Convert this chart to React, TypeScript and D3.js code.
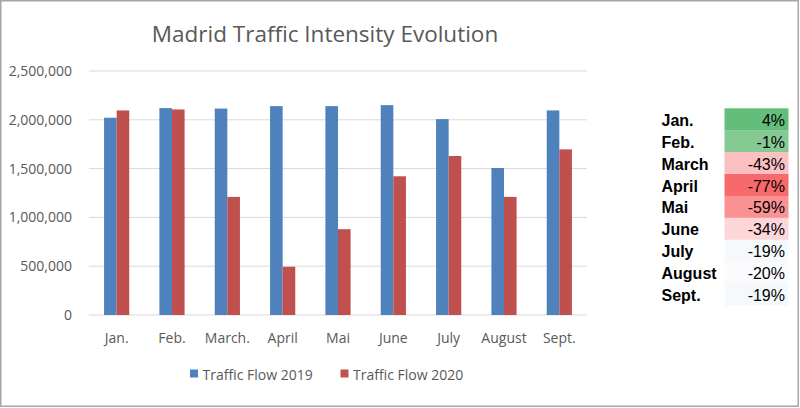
import React, { useEffect, useRef } from "react";
import * as d3 from "d3";

const months = ["Jan.", "Feb.", "March.", "April", "Mai", "June", "July", "August", "Sept."];
const flow2019 = [2021000, 2120000, 2115000, 2140000, 2140000, 2150000, 2007000, 1506000, 2096000];
const flow2020 = [2096000, 2106000, 1210000, 494000, 879000, 1421000, 1629000, 1210000, 1697000];
const seriesNames = ["Traffic Flow 2019", "Traffic Flow 2020"];
const yTicks = [0, 500000, 1000000, 1500000, 2000000, 2500000];
const tableLabels = ["Jan.", "Feb.", "March", "April", "Mai", "June", "July", "August", "Sept."];
const tableValues = [4, -1, -43, -77, -59, -34, -19, -20, -19];
const tableColors = ["#63BE7B", "#85CA93", "#FCC0C3", "#F8696B", "#FA9294", "#FDD6D9", "#F6F9FC", "#FBFBFE", "#F6F9FC"];

const W = 800;
const H = 408;
const BLUE = "#4F81BD";
const RED = "#C0504D";
const FONT = "'Open Sans', 'Noto Sans', sans-serif";

export default function App() {
  const ref = useRef<SVGSVGElement>(null);

  useEffect(() => {
    const svg = d3.select(ref.current);
    svg.selectAll("*").remove();

    svg.append("rect").attr("x", 0).attr("y", 0).attr("width", W).attr("height", H).attr("fill", "#fff");
    svg.append("rect").attr("x", 0.75).attr("y", 0.75).attr("width", 797.5).attr("height", 405.5)
      .attr("fill", "none").attr("stroke", "#a6a6a6").attr("stroke-width", 1.5);

    const x0 = 89, x1 = 587;
    const y = d3.scaleLinear().domain([0, 2500000]).range([315, 71]);
    const x = d3.scaleBand().domain(months).range([x0, x1]).paddingInner(0).paddingOuter(0);
    const bw = 12.6;

    svg.append("text").attr("x", 325).attr("y", 42).attr("text-anchor", "middle")
      .attr("font-family", FONT).attr("font-size", 22.5)
      .attr("fill", "#595959").text("Madrid Traffic Intensity Evolution");

    const g = svg.append("g");
    g.selectAll("line.grid").data(yTicks).join("line")
      .attr("x1", x0).attr("x2", x1).attr("y1", (d) => y(d)).attr("y2", (d) => y(d))
      .attr("stroke", "#d9d9d9").attr("stroke-width", 1);
    g.selectAll("text.ytick").data(yTicks).join("text")
      .attr("x", 72).attr("y", (d) => y(d) + 5).attr("text-anchor", "end")
      .attr("font-family", FONT).attr("font-size", 14)
      .attr("fill", "#595959").text((d) => d3.format(",")(d));

    const series = [flow2019, flow2020];
    const colors = [BLUE, RED];
    series.forEach((vals, si) => {
      g.selectAll(`rect.s${si}`).data(vals).join("rect")
        .attr("x", (_, i) => x(months[i])! + x.bandwidth() / 2 - bw + si * bw)
        .attr("width", bw)
        .attr("y", (d) => y(d))
        .attr("height", (d) => y(0) - y(d))
        .attr("fill", colors[si]);
    });

    g.selectAll("text.xtick").data(months).join("text")
      .attr("x", (d) => x(d)! + x.bandwidth() / 2).attr("y", 343).attr("text-anchor", "middle")
      .attr("font-family", FONT).attr("font-size", 14)
      .attr("fill", "#595959").text((d) => d);

    const legX = [190, 340.5];
    seriesNames.forEach((n, i) => {
      svg.append("rect").attr("x", legX[i]).attr("y", 369.5).attr("width", 8).attr("height", 8).attr("fill", colors[i]);
      svg.append("text").attr("x", legX[i] + 12.5).attr("y", 379.5)
        .attr("font-family", FONT).attr("font-size", 14)
        .attr("fill", "#595959").text(n);
    });

    const rowH = 21.9;
    const top = 108.3;
    const t = svg.append("g");
    tableLabels.forEach((lab, i) => {
      const ry = top + i * rowH;
      t.append("rect").attr("x", 724.5).attr("y", ry).attr("width", 64).attr("height", rowH + 0.3).attr("fill", tableColors[i]);
      t.append("text").attr("x", 661.5).attr("y", ry + 17.5)
        .attr("font-family", "'Liberation Sans', Arial, sans-serif").attr("font-weight", "bold")
        .attr("font-size", 16).attr("fill", "#000").text(lab);
      t.append("text").attr("x", 785).attr("y", ry + 17.5).attr("text-anchor", "end")
        .attr("font-family", "'Liberation Sans', Arial, sans-serif")
        .attr("font-size", 16).attr("fill", "#000").text(`${tableValues[i]}%`);
    });
  }, []);

  return (
    <svg ref={ref} width={W} height={H} style={{ position: "absolute", left: 0, top: 0, display: "block" }} />
  );
}
